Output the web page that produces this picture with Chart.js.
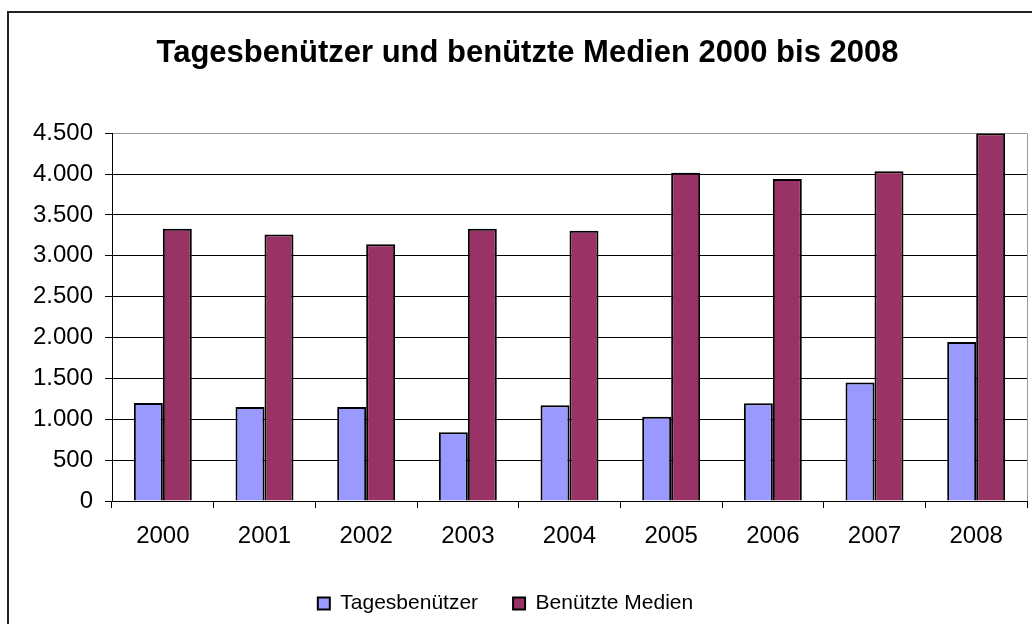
<!DOCTYPE html>
<html>
<head>
<meta charset="utf-8">
<script src="https://cdn.jsdelivr.net/npm/chart.js@4"></script>
<style>
  body { margin: 0; background: #fff; }
  #wrap { width: 1032px; height: 624px; }
</style>
</head>
<body>
<div id="wrap"><canvas id="myChart" width="1032" height="624"></canvas></div>
<script>
// daten
const jahre = ["2000", "2001", "2002", "2003", "2004", "2005", "2006", "2007", "2008"];
const tagesbenutzer = [1200, 1150, 1150, 840, 1170, 1030, 1195, 1450, 1945];
const medien = [3330, 3260, 3140, 3330, 3305, 4015, 3940, 4035, 4500];
const yTicks = [0, 500, 1000, 1500, 2000, 2500, 3000, 3500, 4000, 4500];

const schrift = "'Liberation Sans', Arial, sans-serif";

function tausender(v) {
    return String(v).replace(/\B(?=(\d{3})+(?!\d))/g, ".");
}

// rahmen links/oben und rechter rand der plotflaeche
const rahmen = {
    id: "rahmen",
    beforeDraw(chart) {
        const ctx = chart.ctx;
        ctx.save();
        ctx.fillStyle = "#fff";
        ctx.fillRect(0, 0, chart.width, chart.height);
        ctx.strokeStyle = "#222";
        ctx.lineWidth = 2;
        ctx.strokeRect(8, 12, 1200, 900);
        ctx.restore();
    },
    afterDatasetsDraw(chart) {
        const a = chart.chartArea;
        const ctx = chart.ctx;
        ctx.save();
        ctx.strokeStyle = "#999";
        ctx.lineWidth = 1;
        ctx.beginPath();
        ctx.moveTo(a.right + 0.5, a.top);
        ctx.lineTo(a.right + 0.5, a.bottom);
        ctx.stroke();
        ctx.restore();
    },
    afterLayout(chart) {
        // legende sitzt im original etwas weiter links als der titel
        chart.legend.left -= 22;
        chart.legend.right -= 22;
    }
};

const config = {
    type: "bar",
    data: {
        labels: jahre,
        datasets: [{
            label: "Tagesbenützer",
            data: tagesbenutzer,
            backgroundColor: "#9999FF",
            borderColor: "#000",
            borderWidth: 2
        }, {
            label: "Benützte Medien",
            data: medien,
            backgroundColor: "#993366",
            borderColor: "#000",
            borderWidth: 2
        }]
    },
    options: {
        responsive: false,
        animation: false,
        events: [],
        layout: { padding: { left: 28, right: 5, top: 0, bottom: 0 } },
        datasets: {
            bar: { categoryPercentage: 0.57, barPercentage: 1 }
        },
        scales: {
            x: {
                grid: {
                    offset: true,
                    drawOnChartArea: false,
                    color: "#000",
                    tickLength: 7
                },
                border: { color: "#000", width: 1 },
                ticks: {
                    color: "#000",
                    font: { family: schrift, size: 24 },
                    padding: 14,
                    maxRotation: 0
                },
                afterFit(scale) { scale.height = 57; }
            },
            y: {
                min: 0,
                max: 4500,
                afterBuildTicks(scale) {
                    scale.ticks = yTicks.map(v => ({ value: v }));
                },
                grid: {
                    color: (c) => c.tick && c.tick.value === 4500 ? "#999" : "#000",
                    tickColor: "#000",
                    tickLength: 7
                },
                border: { color: "#000", width: 1 },
                ticks: {
                    color: "#000",
                    font: { family: schrift, size: 24 },
                    padding: 12,
                    callback: (v) => tausender(v)
                },
                afterFit(scale) { scale.width = 84; }
            }
        },
        plugins: {
            title: {
                display: true,
                text: "Tagesbenützer und benützte Medien 2000 bis 2008",
                color: "#000",
                font: { family: schrift, size: 31, weight: "bold", lineHeight: 1.2 },
                padding: { top: 35, bottom: 61 }
            },
            legend: {
                position: "bottom",
                labels: {
                    color: "#000",
                    font: { family: schrift, size: 21 },
                    boxWidth: 12,
                    boxHeight: 12,
                    padding: 35
                }
            },
            tooltip: { enabled: false }
        }
    },
    plugins: [rahmen]
};

window.onload = () => {
    const myChart = new Chart("myChart", config);
};
</script>
</body>
</html>
